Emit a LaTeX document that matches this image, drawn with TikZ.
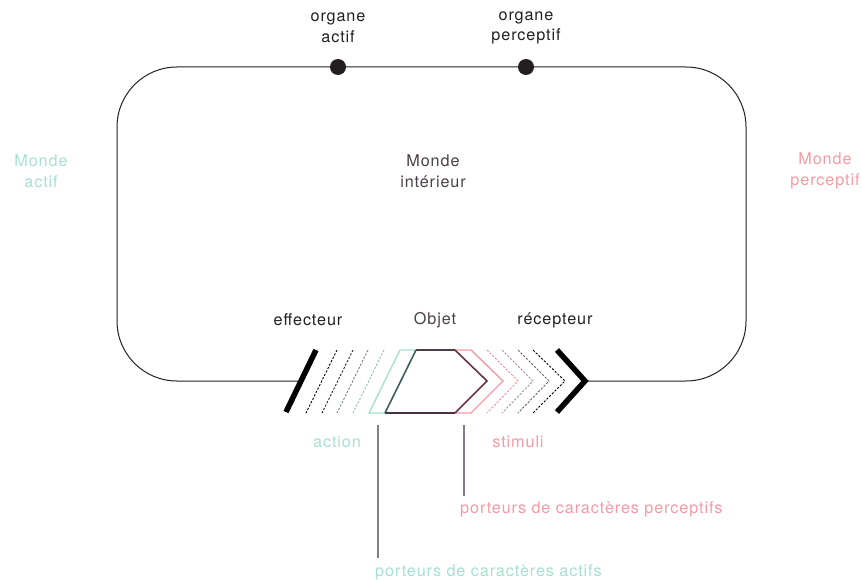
\documentclass[tikz,border=0pt]{standalone}
\usepackage{fontspec}
\setmainfont[LetterSpace=5.5]{TeX Gyre Heros}
\definecolor{teal1}{HTML}{A6E0D1}
\definecolor{pink1}{HTML}{F49AA4}
\definecolor{ink}{HTML}{231F20}
\definecolor{objgray}{HTML}{4A3F48}
\definecolor{objbot}{HTML}{4A3142}
\definecolor{objright}{HTML}{6A3347}
\definecolor{objleft}{HTML}{3E5C5C}
\definecolor{leadc}{HTML}{857B88}
\begin{document}
\begin{tikzpicture}[x=1pt,y=-1pt,
  lbl/.style={font=\fontsize{16.2}{20.5}\selectfont, align=center, inner sep=0pt},
  dot/.style={circle, fill=ink, minimum size=16pt, inner sep=0pt},
  dsh/.style={dash pattern=on 2.2pt off 1.6pt, line width=0.9pt},
  leader/.style={draw=leadc, line width=1.1pt}]
\useasboundingbox (0,0) rectangle (862,580);

% main loop
\draw[ink, line width=1pt, rounded corners=60pt] (299,381) -- (117,381) -- (117,67) -- (746,67) -- (746,381) -- (586,381);

% organs
\node[dot] (oa) at (338,67) {};
\node[dot] (op) at (526,67) {};
\node[lbl, text=ink] (loa) at (338,28) {organe\\actif};
\node[lbl, text=ink] (lop) at (526,28) {organe\\perceptif};

% worlds
\node[lbl, text=objgray] (mi) at (433,171) {Monde\\intérieur};
\node[lbl, text=teal1] (ma) at (41,171) {Monde\\actif};
\node[lbl, text=pink1] (mp) at (825,171) {Monde\\perceptif};

% labels
\node[lbl, text=ink] (eff) at (308,320) {effecteur};
\node[lbl, text=objgray] (obj) at (435,320) {Objet};
\node[lbl, text=ink] (rec) at (555,320) {récepteur};

% effector
\draw[black, line width=5.5pt] (316,350) -- (286,412);
% dashed waves (left)
\draw[dsh, black] (337,350) -- (306,413);
\draw[dsh, black!85] (353,350) -- (322,413);
\draw[dsh, color=teal1!40!black!75] (368,350) -- (337,413);
\draw[dsh, color=teal1!85!black] (384,350) -- (353,413);

% dashed chevrons (right)
\draw[dsh, color=pink1!90!red] (487,350) -- (518,381) -- (487,413);
\draw[dsh, color=pink1!55!black!70] (502,350) -- (533,381) -- (502,413);
\draw[dsh, color=pink1!30!black!80] (518,350) -- (549,381) -- (518,413);
\draw[dsh, black] (533,350) -- (565,381) -- (533,413);

% receptor
\draw[black, line width=5.5pt, miter limit=10] (557,350) -- (585,381) -- (557,412);

% object copies
\draw[teal1, line width=1.4pt] (400,350) -- (439,350) -- (471,381) -- (439,413) -- (369,413) -- cycle;
\draw[pink1, line width=1.4pt] (432,350) -- (471,350) -- (503,381) -- (471,413) -- (401,413) -- cycle;
% object
\fill[white] (416,350) -- (455,350) -- (487,381) -- (455,413) -- (385,413) -- cycle;
\coordinate (oA) at (416,350);
\coordinate (oB) at (455,350);
\coordinate (oC) at (487,381);
\coordinate (oD) at (455,413);
\coordinate (oE) at (385,413);
\draw[color=objgray, line width=1.6pt] (oA) -- (oB);
\draw[color=objbot, line width=1.6pt] (oE) -- (oD);
\draw[color=objright, line width=1.6pt, line join=miter] (oB) -- (oC) -- (oD);
\draw[color=objleft, line width=1.6pt] (oA) -- (oE);

% bottom labels
\node[lbl, text=teal1] (act) at (337,442) {action};
\node[lbl, text=pink1] (sti) at (518,442) {stimuli};
\node[lbl, text=pink1, anchor=west] (pcp) at (460,509) {porteurs de caractères perceptifs};
\node[lbl, text=teal1, anchor=west] (pca) at (375,572) {porteurs de caractères actifs};

% leaders
\coordinate (la) at (378,425);
\coordinate (ls) at (464,425);
\draw[leader] (la) -- (378,558);
\draw[leader] (ls) -- (464,496);
\end{tikzpicture}
\end{document}
